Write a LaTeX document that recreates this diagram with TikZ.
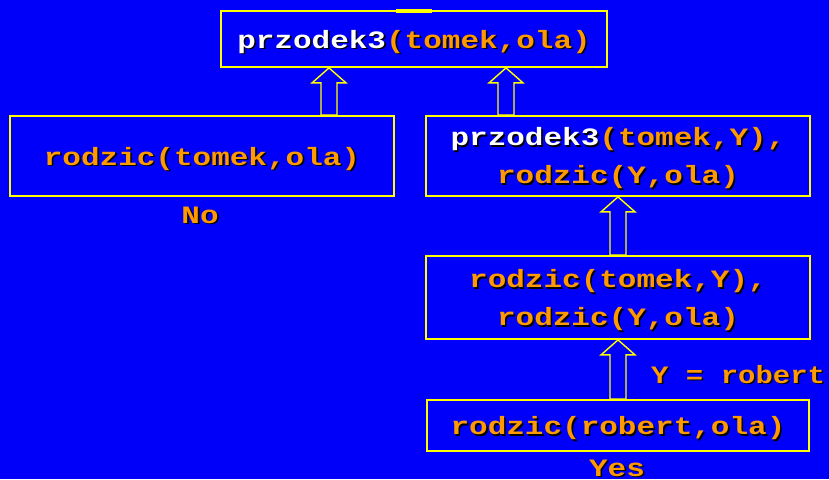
\documentclass[tikz,border=0pt]{standalone}
\usepackage{fontspec}
\usetikzlibrary{calc}
\newfontfamily\cf[FakeStretch=1.24]{Liberation Mono}
\definecolor{bg}{RGB}{0,0,250}
\definecolor{ylw}{RGB}{255,255,0}
\definecolor{org}{RGB}{255,153,0}
\newcommand\shd[2]{{\makebox[0pt][l]{\hspace{1.6pt}\raisebox{-1.6pt}{\color{black}#2}}\color{#1}#2}}
\newcommand\ot[1]{\shd{org}{#1}}
\newcommand\wt[1]{\shd{white}{#1}}
\newcommand\blockarrow[3]{%
  \filldraw[arrline] let \p1=(#2.south), \p2=(#3.north) in
   (#1pt-8pt,\y2) -- (#1pt-8pt,\y1-15pt) -- (#1pt-17pt,\y1-15pt) -- (#1pt,\y1)
   -- (#1pt+17pt,\y1-15pt) -- (#1pt+8pt,\y1-15pt) -- (#1pt+8pt,\y2) -- cycle;}
\tikzset{
  goal/.style={draw=ylw, line width=1.8pt, fill=bg, rectangle, inner sep=0pt},
  gtxt/.style={inner sep=0pt, align=center, font=\cf\bfseries\fontsize{25}{38.5}\selectfont},
  lbl/.style={inner sep=0pt, font=\cf\bfseries\fontsize{25}{30}\selectfont},
  arrline/.style={draw=ylw, fill=bg, line width=1.4pt, line join=miter}
}
\begin{document}
\begin{tikzpicture}[x=1pt,y=-1pt]
\fill[bg] (0,0) rectangle (829,479);
\useasboundingbox (0,0) rectangle (829,479);
\node[goal, minimum width=386pt, minimum height=56pt] (top) at (414,39) {};
\node[gtxt] (topt) at ([yshift=-3.5pt]top.center) {\wt{przodek3}\ot{(tomek,ola)}};
\fill[ylw] (396,9) rectangle (432,13.3);
\node[goal, minimum width=384pt, minimum height=80pt] (left) at (202,156) {};
\node[gtxt] (leftt) at ([yshift=-3.5pt]left.center) {\ot{rodzic(tomek,ola)}};
\node[goal, minimum width=384pt, minimum height=80pt] (r1) at (618,156) {};
\node[gtxt] (r1t) at ([yshift=-3pt]r1.center) {\wt{przodek3}\ot{(tomek,Y),}\\\ot{rodzic(Y,ola)}};
\node[goal, minimum width=384pt, minimum height=83pt] (r2) at (618,297.5) {};
\node[gtxt] (r2t) at ([yshift=-3.5pt]r2.center) {\ot{rodzic(tomek,Y),}\\\ot{rodzic(Y,ola)}};
\node[goal, minimum width=382pt, minimum height=51pt] (r3) at (618,425.5) {};
\node[gtxt] (r3t) at ([yshift=-3.5pt]r3.center) {\ot{rodzic(robert,ola)}};
\node[lbl] (no) at (200,216) {\ot{No}};
\node[lbl] (yes) at (617,469) {\ot{Yes}};
\node[lbl, anchor=west] (sub) at (651,375) {\scalebox{0.935}[1]{\ot{Y = robert}}};
\blockarrow{329}{top}{left}
\blockarrow{506}{top}{r1}
\blockarrow{618}{r1}{r2}
\blockarrow{618}{r2}{r3}
\end{tikzpicture}
\end{document}
